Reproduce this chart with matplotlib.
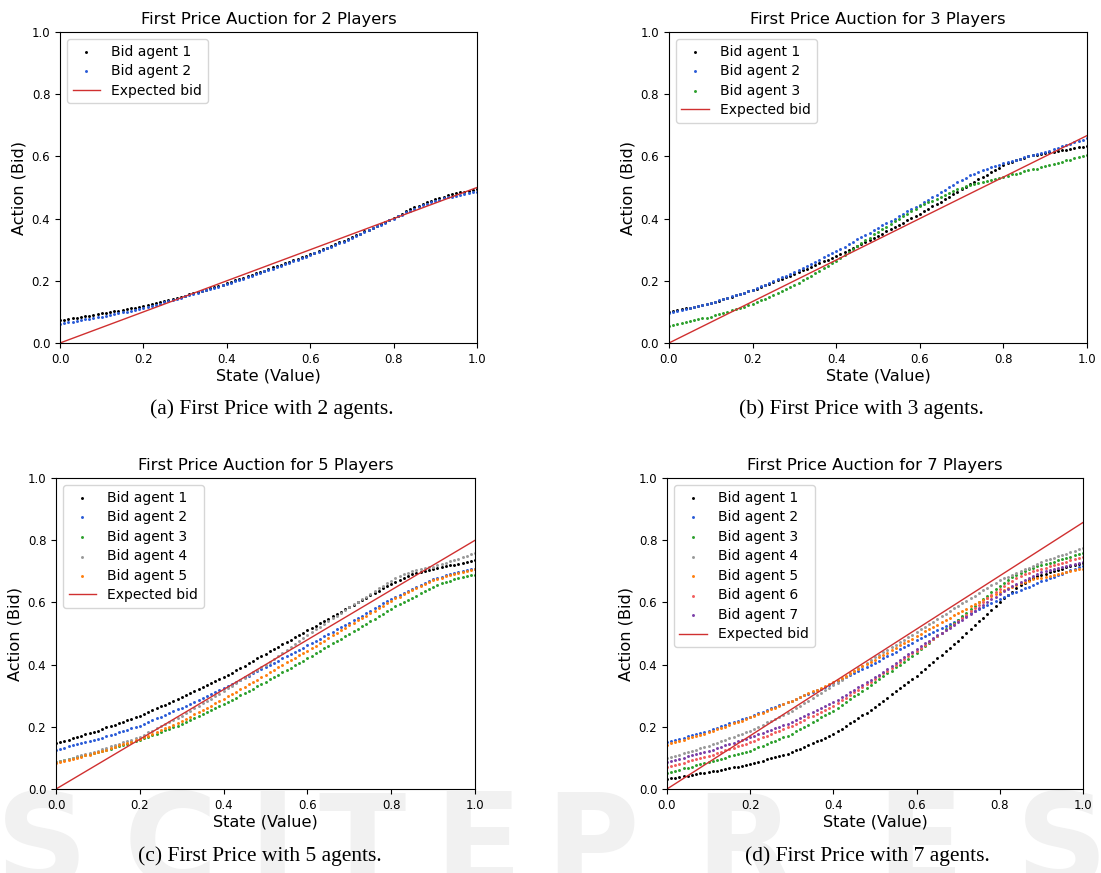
import numpy as np
import matplotlib.pyplot as plt

# state values: 101 evenly spaced samples on [0, 1]
state = np.linspace(0, 1, 101)

# ---- 2 players ----
p2_agent1 = [0.073, 0.075, 0.077, 0.080, 0.082, 0.084, 0.086, 0.088, 0.091, 0.093,
             0.095, 0.097, 0.100, 0.102, 0.104, 0.107, 0.109, 0.111, 0.113, 0.116,
             0.118, 0.121, 0.125, 0.128, 0.132, 0.135, 0.138, 0.142, 0.145, 0.149,
             0.152, 0.156, 0.160, 0.164, 0.168, 0.172, 0.176, 0.180, 0.184, 0.188,
             0.192, 0.197, 0.201, 0.206, 0.210, 0.215, 0.220, 0.224, 0.229, 0.233,
             0.238, 0.243, 0.247, 0.252, 0.257, 0.262, 0.266, 0.271, 0.276, 0.280,
             0.285, 0.291, 0.296, 0.302, 0.307, 0.313, 0.318, 0.324, 0.329, 0.335,
             0.340, 0.346, 0.352, 0.359, 0.365, 0.371, 0.377, 0.383, 0.390, 0.396,
             0.402, 0.409, 0.416, 0.423, 0.430, 0.436, 0.442, 0.448, 0.453, 0.458,
             0.463, 0.467, 0.471, 0.475, 0.478, 0.481, 0.484, 0.487, 0.490, 0.492,
             0.495]
p2_agent2 = [0.062, 0.064, 0.067, 0.069, 0.071, 0.074, 0.076, 0.078, 0.080, 0.083,
             0.085, 0.088, 0.090, 0.093, 0.096, 0.099, 0.101, 0.104, 0.107, 0.109,
             0.112, 0.116, 0.120, 0.123, 0.127, 0.131, 0.135, 0.139, 0.142, 0.146,
             0.150, 0.154, 0.158, 0.162, 0.166, 0.170, 0.173, 0.177, 0.181, 0.185,
             0.189, 0.194, 0.198, 0.203, 0.207, 0.212, 0.216, 0.221, 0.225, 0.230,
             0.234, 0.239, 0.244, 0.248, 0.253, 0.258, 0.263, 0.268, 0.272, 0.277,
             0.282, 0.288, 0.293, 0.299, 0.304, 0.310, 0.315, 0.321, 0.326, 0.332,
             0.337, 0.343, 0.350, 0.356, 0.362, 0.369, 0.375, 0.381, 0.387, 0.394,
             0.400, 0.407, 0.413, 0.420, 0.426, 0.432, 0.438, 0.443, 0.448, 0.453,
             0.457, 0.461, 0.465, 0.468, 0.471, 0.474, 0.477, 0.480, 0.482, 0.485,
             0.487]

# ---- 3 players ----
p3_agent1 = [0.100, 0.103, 0.106, 0.108, 0.111, 0.114, 0.117, 0.120, 0.122, 0.125,
             0.128, 0.132, 0.136, 0.141, 0.145, 0.149, 0.153, 0.157, 0.162, 0.166,
             0.170, 0.175, 0.180, 0.186, 0.191, 0.196, 0.201, 0.206, 0.212, 0.217,
             0.222, 0.228, 0.234, 0.239, 0.245, 0.251, 0.257, 0.263, 0.268, 0.274,
             0.280, 0.287, 0.293, 0.300, 0.306, 0.313, 0.319, 0.326, 0.332, 0.339,
             0.345, 0.352, 0.359, 0.366, 0.373, 0.380, 0.387, 0.394, 0.401, 0.408,
             0.415, 0.423, 0.431, 0.439, 0.447, 0.455, 0.463, 0.471, 0.479, 0.487,
             0.495, 0.503, 0.510, 0.518, 0.526, 0.534, 0.541, 0.549, 0.557, 0.564,
             0.572, 0.578, 0.583, 0.588, 0.592, 0.596, 0.600, 0.603, 0.606, 0.608,
             0.610, 0.613, 0.615, 0.618, 0.620, 0.622, 0.625, 0.627, 0.629, 0.631,
             0.633]
p3_agent2 = [0.098, 0.101, 0.104, 0.107, 0.110, 0.113, 0.116, 0.119, 0.122, 0.125,
             0.128, 0.132, 0.137, 0.141, 0.145, 0.150, 0.154, 0.158, 0.162, 0.167,
             0.171, 0.177, 0.182, 0.188, 0.194, 0.200, 0.205, 0.211, 0.217, 0.222,
             0.228, 0.235, 0.241, 0.248, 0.255, 0.262, 0.268, 0.275, 0.282, 0.288,
             0.295, 0.303, 0.310, 0.318, 0.325, 0.333, 0.340, 0.348, 0.355, 0.363,
             0.370, 0.378, 0.385, 0.393, 0.400, 0.408, 0.415, 0.423, 0.430, 0.438,
             0.445, 0.453, 0.461, 0.469, 0.477, 0.485, 0.493, 0.501, 0.509, 0.517,
             0.525, 0.532, 0.539, 0.545, 0.551, 0.556, 0.561, 0.566, 0.570, 0.574,
             0.578, 0.582, 0.586, 0.589, 0.593, 0.597, 0.600, 0.604, 0.608, 0.611,
             0.615, 0.619, 0.624, 0.628, 0.632, 0.637, 0.641, 0.645, 0.649, 0.654,
             0.658]
p3_agent3 = [0.056, 0.059, 0.062, 0.065, 0.068, 0.071, 0.073, 0.076, 0.079, 0.082,
             0.085, 0.089, 0.093, 0.097, 0.101, 0.105, 0.109, 0.113, 0.117, 0.121,
             0.125, 0.131, 0.137, 0.143, 0.149, 0.155, 0.161, 0.167, 0.173, 0.179,
             0.185, 0.193, 0.201, 0.209, 0.217, 0.225, 0.233, 0.241, 0.249, 0.257,
             0.265, 0.274, 0.284, 0.293, 0.302, 0.312, 0.321, 0.330, 0.339, 0.349,
             0.358, 0.366, 0.374, 0.383, 0.391, 0.399, 0.407, 0.415, 0.424, 0.432,
             0.440, 0.446, 0.452, 0.458, 0.464, 0.470, 0.476, 0.482, 0.488, 0.494,
             0.500, 0.504, 0.507, 0.511, 0.514, 0.518, 0.521, 0.525, 0.528, 0.532,
             0.535, 0.538, 0.542, 0.545, 0.548, 0.552, 0.555, 0.558, 0.561, 0.565,
             0.568, 0.572, 0.575, 0.579, 0.583, 0.587, 0.590, 0.594, 0.598, 0.601,
             0.605]

# ---- 5 players ----
p5_agent1 = [0.147, 0.151, 0.155, 0.159, 0.163, 0.168, 0.172, 0.176, 0.180, 0.184,
             0.188, 0.193, 0.198, 0.202, 0.207, 0.212, 0.217, 0.222, 0.226, 0.231,
             0.236, 0.242, 0.248, 0.254, 0.260, 0.266, 0.271, 0.277, 0.283, 0.289,
             0.295, 0.301, 0.308, 0.314, 0.321, 0.327, 0.333, 0.340, 0.346, 0.353,
             0.359, 0.367, 0.374, 0.382, 0.389, 0.397, 0.405, 0.412, 0.420, 0.427,
             0.435, 0.443, 0.450, 0.458, 0.465, 0.473, 0.480, 0.488, 0.495, 0.503,
             0.510, 0.518, 0.525, 0.533, 0.540, 0.548, 0.555, 0.563, 0.570, 0.578,
             0.585, 0.593, 0.600, 0.608, 0.615, 0.623, 0.630, 0.638, 0.645, 0.653,
             0.660, 0.667, 0.673, 0.679, 0.685, 0.690, 0.695, 0.699, 0.702, 0.705,
             0.708, 0.711, 0.714, 0.716, 0.719, 0.722, 0.724, 0.727, 0.730, 0.732,
             0.735]
p5_agent2 = [0.126, 0.130, 0.133, 0.137, 0.140, 0.144, 0.147, 0.151, 0.154, 0.158,
             0.161, 0.165, 0.170, 0.174, 0.178, 0.183, 0.187, 0.191, 0.195, 0.200,
             0.204, 0.210, 0.216, 0.221, 0.227, 0.233, 0.239, 0.245, 0.250, 0.256,
             0.262, 0.268, 0.275, 0.281, 0.287, 0.294, 0.300, 0.306, 0.312, 0.319,
             0.325, 0.332, 0.338, 0.345, 0.352, 0.359, 0.365, 0.372, 0.379, 0.385,
             0.392, 0.399, 0.406, 0.413, 0.420, 0.427, 0.434, 0.441, 0.448, 0.455,
             0.462, 0.469, 0.477, 0.484, 0.491, 0.499, 0.506, 0.513, 0.520, 0.528,
             0.535, 0.543, 0.550, 0.558, 0.566, 0.574, 0.581, 0.589, 0.597, 0.604,
             0.612, 0.618, 0.625, 0.631, 0.637, 0.644, 0.650, 0.656, 0.662, 0.669,
             0.675, 0.679, 0.683, 0.687, 0.690, 0.694, 0.697, 0.700, 0.703, 0.706,
             0.708]
p5_agent3 = [0.086, 0.089, 0.092, 0.096, 0.099, 0.102, 0.105, 0.108, 0.112, 0.115,
             0.118, 0.122, 0.126, 0.130, 0.134, 0.138, 0.142, 0.146, 0.150, 0.154,
             0.158, 0.163, 0.168, 0.173, 0.178, 0.184, 0.189, 0.194, 0.199, 0.204,
             0.209, 0.215, 0.222, 0.228, 0.234, 0.241, 0.247, 0.253, 0.259, 0.266,
             0.272, 0.279, 0.287, 0.294, 0.301, 0.309, 0.316, 0.323, 0.330, 0.338,
             0.345, 0.353, 0.360, 0.368, 0.375, 0.383, 0.390, 0.398, 0.405, 0.413,
             0.420, 0.428, 0.436, 0.444, 0.452, 0.460, 0.468, 0.476, 0.484, 0.492,
             0.500, 0.508, 0.516, 0.524, 0.532, 0.540, 0.548, 0.556, 0.564, 0.572,
             0.580, 0.587, 0.594, 0.601, 0.608, 0.615, 0.622, 0.629, 0.636, 0.643,
             0.650, 0.656, 0.661, 0.666, 0.670, 0.674, 0.678, 0.682, 0.685, 0.687,
             0.689]
p5_agent4 = [0.086, 0.090, 0.093, 0.097, 0.101, 0.105, 0.108, 0.112, 0.116, 0.119,
             0.123, 0.128, 0.132, 0.137, 0.141, 0.146, 0.150, 0.155, 0.159, 0.164,
             0.168, 0.175, 0.182, 0.188, 0.195, 0.202, 0.209, 0.216, 0.222, 0.229,
             0.236, 0.244, 0.252, 0.260, 0.268, 0.276, 0.283, 0.291, 0.299, 0.307,
             0.315, 0.324, 0.332, 0.341, 0.349, 0.358, 0.366, 0.375, 0.383, 0.392,
             0.400, 0.410, 0.419, 0.429, 0.438, 0.448, 0.457, 0.467, 0.476, 0.486,
             0.495, 0.504, 0.513, 0.522, 0.531, 0.540, 0.549, 0.558, 0.567, 0.576,
             0.585, 0.594, 0.602, 0.611, 0.619, 0.628, 0.636, 0.645, 0.653, 0.662,
             0.670, 0.677, 0.684, 0.690, 0.695, 0.700, 0.704, 0.707, 0.710, 0.713,
             0.715, 0.719, 0.724, 0.728, 0.733, 0.737, 0.741, 0.746, 0.750, 0.755,
             0.759]
p5_agent5 = [0.083, 0.087, 0.090, 0.094, 0.097, 0.101, 0.104, 0.108, 0.111, 0.115,
             0.118, 0.122, 0.127, 0.131, 0.135, 0.140, 0.144, 0.148, 0.152, 0.157,
             0.161, 0.167, 0.172, 0.178, 0.184, 0.190, 0.195, 0.201, 0.207, 0.212,
             0.218, 0.225, 0.232, 0.240, 0.247, 0.254, 0.261, 0.268, 0.276, 0.283,
             0.290, 0.298, 0.306, 0.313, 0.321, 0.329, 0.337, 0.345, 0.352, 0.360,
             0.368, 0.376, 0.383, 0.391, 0.399, 0.407, 0.414, 0.422, 0.430, 0.437,
             0.445, 0.453, 0.461, 0.469, 0.477, 0.486, 0.494, 0.502, 0.510, 0.518,
             0.526, 0.534, 0.542, 0.550, 0.558, 0.566, 0.574, 0.582, 0.590, 0.598,
             0.606, 0.613, 0.619, 0.626, 0.632, 0.639, 0.646, 0.652, 0.659, 0.665,
             0.672, 0.676, 0.680, 0.684, 0.688, 0.691, 0.695, 0.699, 0.702, 0.705,
             0.708]

# ---- 7 players ----
p7_agent1 = [0.032, 0.034, 0.036, 0.039, 0.041, 0.043, 0.045, 0.047, 0.050, 0.052,
             0.054, 0.057, 0.059, 0.062, 0.064, 0.067, 0.070, 0.072, 0.075, 0.077,
             0.080, 0.084, 0.088, 0.091, 0.095, 0.099, 0.103, 0.107, 0.110, 0.114,
             0.118, 0.124, 0.130, 0.136, 0.142, 0.148, 0.153, 0.159, 0.165, 0.171,
             0.177, 0.186, 0.194, 0.203, 0.211, 0.220, 0.229, 0.237, 0.246, 0.254,
             0.263, 0.273, 0.283, 0.294, 0.304, 0.314, 0.324, 0.334, 0.345, 0.355,
             0.365, 0.376, 0.387, 0.399, 0.410, 0.421, 0.432, 0.443, 0.455, 0.466,
             0.477, 0.489, 0.502, 0.514, 0.527, 0.539, 0.551, 0.564, 0.576, 0.589,
             0.601, 0.613, 0.624, 0.635, 0.645, 0.655, 0.664, 0.672, 0.679, 0.684,
             0.687, 0.692, 0.697, 0.701, 0.705, 0.709, 0.713, 0.717, 0.720, 0.724,
             0.727]
p7_agent2 = [0.150, 0.154, 0.158, 0.161, 0.165, 0.169, 0.173, 0.177, 0.180, 0.184,
             0.188, 0.193, 0.197, 0.202, 0.206, 0.211, 0.215, 0.220, 0.224, 0.229,
             0.233, 0.238, 0.243, 0.248, 0.253, 0.259, 0.264, 0.269, 0.274, 0.279,
             0.284, 0.290, 0.295, 0.301, 0.306, 0.312, 0.318, 0.323, 0.329, 0.334,
             0.340, 0.347, 0.353, 0.360, 0.366, 0.373, 0.379, 0.386, 0.392, 0.399,
             0.405, 0.412, 0.420, 0.427, 0.434, 0.442, 0.449, 0.456, 0.463, 0.471,
             0.478, 0.485, 0.491, 0.498, 0.505, 0.512, 0.518, 0.525, 0.532, 0.538,
             0.545, 0.552, 0.558, 0.565, 0.572, 0.579, 0.585, 0.592, 0.599, 0.605,
             0.612, 0.618, 0.623, 0.629, 0.634, 0.640, 0.646, 0.651, 0.657, 0.662,
             0.668, 0.673, 0.678, 0.683, 0.688, 0.693, 0.698, 0.703, 0.708, 0.713,
             0.718]
p7_agent3 = [0.052, 0.055, 0.059, 0.062, 0.066, 0.069, 0.072, 0.076, 0.079, 0.083,
             0.086, 0.090, 0.093, 0.097, 0.101, 0.105, 0.108, 0.112, 0.116, 0.119,
             0.123, 0.128, 0.134, 0.139, 0.145, 0.150, 0.155, 0.161, 0.166, 0.172,
             0.177, 0.185, 0.192, 0.200, 0.207, 0.215, 0.222, 0.230, 0.237, 0.245,
             0.252, 0.261, 0.270, 0.279, 0.288, 0.298, 0.307, 0.316, 0.325, 0.334,
             0.343, 0.353, 0.362, 0.372, 0.381, 0.391, 0.400, 0.410, 0.419, 0.429,
             0.438, 0.449, 0.459, 0.470, 0.481, 0.492, 0.502, 0.513, 0.524, 0.534,
             0.545, 0.556, 0.567, 0.578, 0.589, 0.600, 0.610, 0.621, 0.632, 0.643,
             0.654, 0.664, 0.673, 0.682, 0.689, 0.696, 0.702, 0.707, 0.712, 0.716,
             0.719, 0.723, 0.727, 0.731, 0.735, 0.739, 0.743, 0.747, 0.751, 0.755,
             0.759]
p7_agent4 = [0.099, 0.103, 0.107, 0.111, 0.115, 0.119, 0.123, 0.127, 0.131, 0.135,
             0.139, 0.144, 0.149, 0.154, 0.159, 0.164, 0.168, 0.173, 0.178, 0.183,
             0.188, 0.194, 0.201, 0.207, 0.214, 0.220, 0.226, 0.233, 0.239, 0.246,
             0.252, 0.260, 0.268, 0.276, 0.284, 0.293, 0.301, 0.309, 0.317, 0.325,
             0.333, 0.342, 0.351, 0.360, 0.369, 0.379, 0.388, 0.397, 0.406, 0.415,
             0.424, 0.432, 0.440, 0.448, 0.456, 0.464, 0.472, 0.480, 0.488, 0.496,
             0.504, 0.513, 0.521, 0.530, 0.538, 0.547, 0.556, 0.564, 0.573, 0.581,
             0.590, 0.598, 0.606, 0.614, 0.622, 0.631, 0.639, 0.647, 0.655, 0.663,
             0.671, 0.677, 0.683, 0.689, 0.695, 0.701, 0.706, 0.712, 0.718, 0.724,
             0.730, 0.735, 0.739, 0.744, 0.748, 0.753, 0.757, 0.762, 0.766, 0.771,
             0.775]
p7_agent5 = [0.143, 0.147, 0.151, 0.155, 0.159, 0.163, 0.166, 0.170, 0.174, 0.178,
             0.182, 0.187, 0.192, 0.196, 0.201, 0.206, 0.211, 0.216, 0.220, 0.225,
             0.230, 0.235, 0.241, 0.246, 0.252, 0.257, 0.262, 0.268, 0.273, 0.279,
             0.284, 0.290, 0.296, 0.302, 0.308, 0.314, 0.319, 0.325, 0.331, 0.337,
             0.343, 0.350, 0.358, 0.365, 0.372, 0.380, 0.387, 0.394, 0.401, 0.409,
             0.416, 0.424, 0.431, 0.439, 0.446, 0.454, 0.462, 0.469, 0.477, 0.484,
             0.492, 0.499, 0.507, 0.514, 0.522, 0.529, 0.536, 0.544, 0.551, 0.559,
             0.566, 0.573, 0.580, 0.587, 0.594, 0.601, 0.607, 0.614, 0.621, 0.628,
             0.635, 0.641, 0.646, 0.651, 0.656, 0.661, 0.665, 0.670, 0.674, 0.677,
             0.680, 0.683, 0.686, 0.689, 0.692, 0.695, 0.698, 0.701, 0.703, 0.706,
             0.708]
p7_agent6 = [0.070, 0.074, 0.077, 0.081, 0.085, 0.089, 0.092, 0.096, 0.100, 0.103,
             0.107, 0.111, 0.116, 0.120, 0.124, 0.129, 0.133, 0.137, 0.141, 0.146,
             0.150, 0.155, 0.161, 0.166, 0.172, 0.177, 0.182, 0.188, 0.193, 0.199,
             0.204, 0.210, 0.217, 0.223, 0.230, 0.236, 0.242, 0.249, 0.255, 0.262,
             0.268, 0.277, 0.285, 0.294, 0.302, 0.311, 0.320, 0.328, 0.337, 0.345,
             0.354, 0.363, 0.372, 0.381, 0.390, 0.400, 0.409, 0.418, 0.427, 0.436,
             0.445, 0.455, 0.464, 0.474, 0.483, 0.493, 0.502, 0.512, 0.521, 0.531,
             0.540, 0.550, 0.561, 0.571, 0.582, 0.592, 0.602, 0.613, 0.623, 0.634,
             0.644, 0.653, 0.662, 0.670, 0.677, 0.684, 0.690, 0.695, 0.700, 0.704,
             0.708, 0.712, 0.716, 0.720, 0.723, 0.727, 0.731, 0.735, 0.739, 0.742,
             0.746]
p7_agent7 = [0.086, 0.090, 0.093, 0.097, 0.101, 0.105, 0.108, 0.112, 0.116, 0.119,
             0.123, 0.127, 0.132, 0.136, 0.140, 0.145, 0.149, 0.153, 0.157, 0.162,
             0.166, 0.171, 0.176, 0.181, 0.186, 0.191, 0.195, 0.200, 0.205, 0.210,
             0.215, 0.221, 0.228, 0.234, 0.241, 0.247, 0.253, 0.260, 0.266, 0.273,
             0.279, 0.287, 0.295, 0.303, 0.311, 0.319, 0.327, 0.335, 0.343, 0.351,
             0.359, 0.368, 0.377, 0.387, 0.396, 0.405, 0.414, 0.423, 0.433, 0.442,
             0.451, 0.460, 0.468, 0.477, 0.485, 0.494, 0.502, 0.511, 0.519, 0.528,
             0.536, 0.545, 0.554, 0.564, 0.573, 0.582, 0.591, 0.600, 0.610, 0.619,
             0.628, 0.636, 0.644, 0.652, 0.659, 0.666, 0.673, 0.679, 0.685, 0.691,
             0.697, 0.701, 0.705, 0.708, 0.711, 0.714, 0.718, 0.721, 0.724, 0.727,
             0.730]

# expected (equilibrium) bid lines: end points at state 0 and 1
line_x = [0.0, 1.0]
expected_2 = [0.0, 0.5]
expected_3 = [0.0, 0.667]
expected_5 = [0.0, 0.8]
expected_7 = [0.0, 0.857]

agent_colors = ['black', '#2a5bd7', '#2ca02c', '#999999', '#ff7f0e', '#f25c5c', '#7b3fa8']
line_color = '#d03030'

panels = [
    (2, [p2_agent1, p2_agent2], expected_2, '(a) First Price with 2 agents.'),
    (3, [p3_agent1, p3_agent2, p3_agent3], expected_3, '(b) First Price with 3 agents.'),
    (5, [p5_agent1, p5_agent2, p5_agent3, p5_agent4, p5_agent5], expected_5,
     '(c) First Price with 5 agents.'),
    (7, [p7_agent1, p7_agent2, p7_agent3, p7_agent4, p7_agent5, p7_agent6, p7_agent7],
     expected_7, '(d) First Price with 7 agents.'),
]

# axes rectangles (left, bottom, width, height) in figure fractions
rects = [
    [0.0545, 0.6071, 0.3787, 0.3562],
    [0.6076, 0.6071, 0.3797, 0.3562],
    [0.0509, 0.0962, 0.3806, 0.3562],
    [0.6058, 0.0962, 0.3778, 0.3562],
]
caption_pos = [(0.247, 0.5315), (0.782, 0.5315), (0.236, 0.0195), (0.788, 0.0195)]

fig = plt.figure(figsize=(11.01, 8.73), dpi=100)

# faint publisher watermark, drawn behind everything else
wm_letters = ['S', 'C', 'I', 'T', 'E', 'P', 'R', 'E', 'S', 'S']
wm_x = [42, 170, 272, 362, 478, 592, 744, 920, 1062, 1190]
for ch, px in zip(wm_letters, wm_x):
    fig.text(px / 1101, -0.045, ch, fontsize=92, fontweight='bold', color='#f1f1f1',
             ha='center', va='bottom', zorder=-10)

for (n, bids, expected, caption), rect, cpos in zip(panels, rects, caption_pos):
    ax = fig.add_axes(rect)
    ax.patch.set_alpha(0)
    for i, b in enumerate(bids):
        ax.scatter(state, b, s=4.5, color=agent_colors[i], linewidths=0,
                   label='Bid agent %d' % (i + 1))
    ax.plot(line_x, expected, color=line_color, lw=1.0, label='Expected bid')
    ax.set_xlim(0, 1)
    ax.set_ylim(0, 1)
    ax.set_xticks(np.arange(0, 1.01, 0.2))
    ax.set_yticks(np.arange(0, 1.01, 0.2))
    ax.tick_params(labelsize=8.5)
    ax.set_title('First Price Auction for %d Players' % n, fontsize=11.8)
    ax.set_xlabel('State (Value)', fontsize=11.6, labelpad=2)
    ax.set_ylabel('Action (Bid)', fontsize=11.6, labelpad=4)
    ax.legend(loc='upper left', fontsize=10, scatterpoints=1, handlelength=2.0,
              labelspacing=0.4)
    fig.text(cpos[0], cpos[1], caption, fontsize=15.5, family='Liberation Serif',
             ha='center', va='center')

fig.savefig('out.png', dpi=100)
